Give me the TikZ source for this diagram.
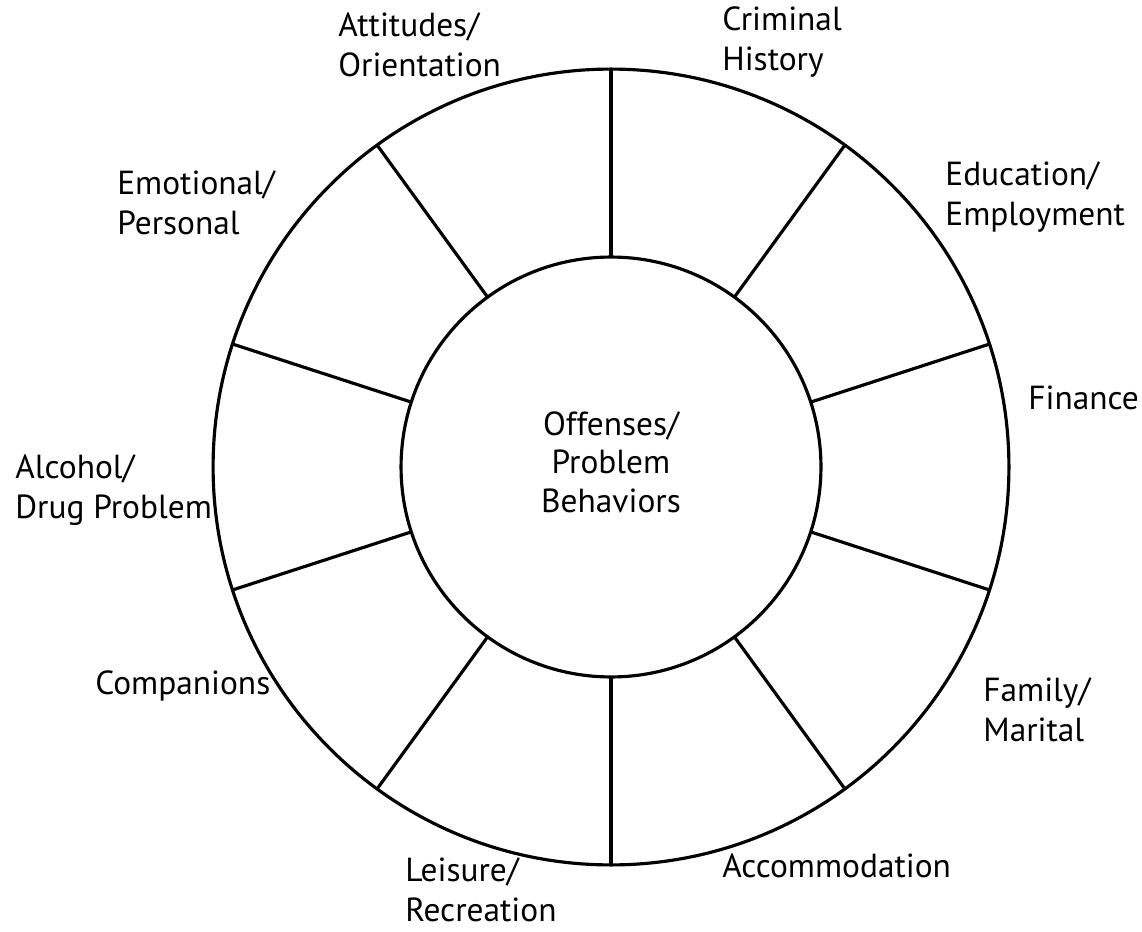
\documentclass[tikz,border=0pt]{standalone}
\usepackage{fontspec}
\setmainfont{PT Sans}
\usetikzlibrary{positioning}
\begin{document}
\begin{tikzpicture}[x=0.02cm,y=-0.02cm]
\useasboundingbox (0,0) rectangle (1142,932);
\tikzstyle{ring}=[draw, circle, line width=1.8pt, inner sep=0pt, outer sep=0pt]
\tikzstyle{lbl}=[anchor=west, align=left, inner sep=0pt,
  font=\fontsize{19}{23}\selectfont]
\node[ring, minimum size=15.92cm] (rim) at (611,467) {};
\node[ring, minimum size=8.4cm] (hub) at (611,467) {};
\foreach \a in {90,54,...,-234}
  \draw[line width=1.8pt] (hub.\a) -- (rim.\a);
\node[align=center, font=\fontsize{19}{22}\selectfont] (core) at (611,462)
  {Offenses/\\Problem\\Behaviors};
\node[lbl] (crim) at (722,42) {Criminal\\History};
\node[lbl] (edu) at (945,197) {Education/\\Employment};
\node[lbl] (fin) at (1028,398) {Finance};
\node[lbl] (fam) at (983,710) {Family/\\Marital};
\node[lbl] (acc) at (722,866) {Accommodation};
\node[lbl] (leis) at (405,890) {Leisure/\\Recreation};
\node[lbl] (comp) at (95,686) {Companions};
\node[lbl] (alc) at (15,490) {Alcohol/\\Drug Problem};
\node[lbl] (emo) at (117,203) {Emotional/\\Personal};
\node[lbl] (att) at (338,45) {Attitudes/\\Orientation};
\end{tikzpicture}
\end{document}
